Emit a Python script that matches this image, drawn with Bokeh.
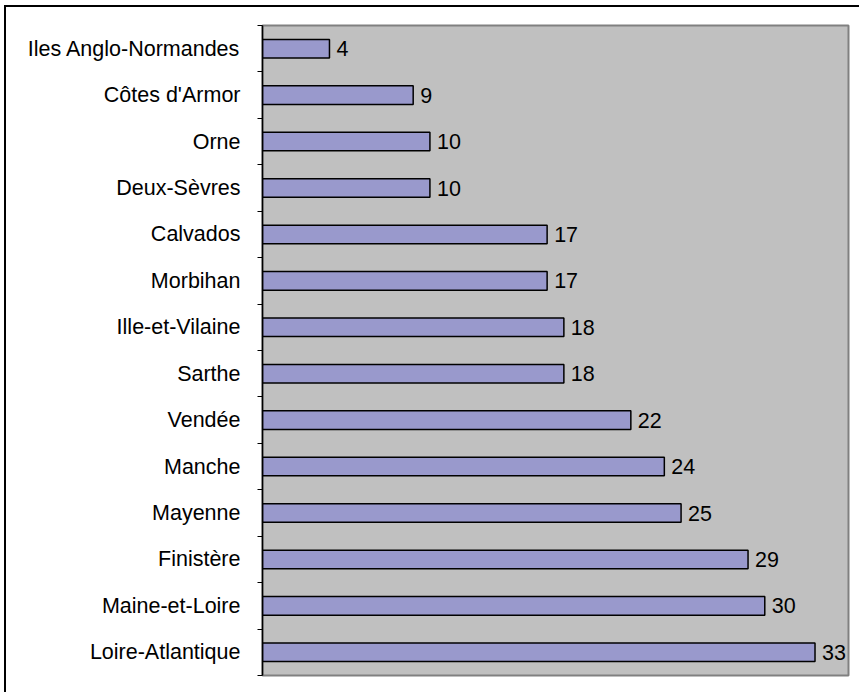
from bokeh.plotting import figure
from bokeh.models import ColumnDataSource, LabelSet, Range1d, FixedTicker
from bokeh.core.properties import value
from bokeh.embed import file_html
from bokeh.resources import INLINE

# data, listed bottom to top
categories = ["Loire-Atlantique", "Maine-et-Loire", "Finistère", "Mayenne", "Manche",
              "Vendée", "Sarthe", "Ille-et-Vilaine", "Morbihan", "Calvados",
              "Deux-Sèvres", "Orne", "Côtes d'Armor", "Iles Anglo-Normandes"]
values = [33, 30, 29, 25, 24, 22, 18, 18, 17, 17, 10, 10, 9, 4]

n = len(categories)
ypos = [i + 0.5 for i in range(n)]
src = ColumnDataSource(dict(y=ypos, v=values, lab=[str(v) for v in values], cat=categories))

FONT = "Liberation Sans"
FS = "21.5px"

# outer chart border (top and left) drawn via CSS; the canvas is shifted accordingly
ML, MT, BW = 4, 5, 2
p = figure(width=861 - ML - BW, height=694 - MT - BW, output_backend="svg", toolbar_location=None,
           x_range=Range1d(0, 35), y_range=Range1d(0, n),
           min_border_left=262 - ML - BW, min_border_right=13,
           min_border_top=25 - MT - BW, min_border_bottom=19)
p.styles = {"border-top": f"{BW}px solid black", "border-left": f"{BW}px solid black",
            "margin-left": f"{ML}px", "margin-top": f"{MT}px"}
p.background_fill_color = "#C0C0C0"
p.border_fill_color = "white"
p.outline_line_color = "#808080"
p.outline_line_width = 2
p.xgrid.visible = False
p.ygrid.visible = False
p.xaxis.visible = False

p.hbar(y="y", right="v", left=0, height=0.4, source=src,
       fill_color="#9999CC", line_color="black", line_width=1.5)

labels = LabelSet(x="v", y="y", text="lab", source=src, x_offset=7, y_offset=0,
                  text_baseline="middle", text_align="left",
                  text_font=value(FONT), text_font_size=FS, text_color="black")
p.add_layout(labels)

ax = p.yaxis[0]
ax.ticker = FixedTicker(ticks=ypos, minor_ticks=list(range(n + 1)))
ax.major_label_overrides = {y: c for y, c in zip(ypos, categories)}
ax.major_tick_out = 0
ax.major_tick_in = 0
ax.major_tick_line_color = None
ax.minor_tick_out = 5
ax.minor_tick_in = 0
ax.minor_tick_line_color = "black"
ax.minor_tick_line_width = 1
ax.axis_line_color = "black"
ax.axis_line_width = 1.5
ax.major_label_standoff = 17
ax.major_label_text_font = FONT
ax.major_label_text_font_size = FS
ax.major_label_text_color = "black"

open("out.html", "w").write(file_html(p, INLINE))
